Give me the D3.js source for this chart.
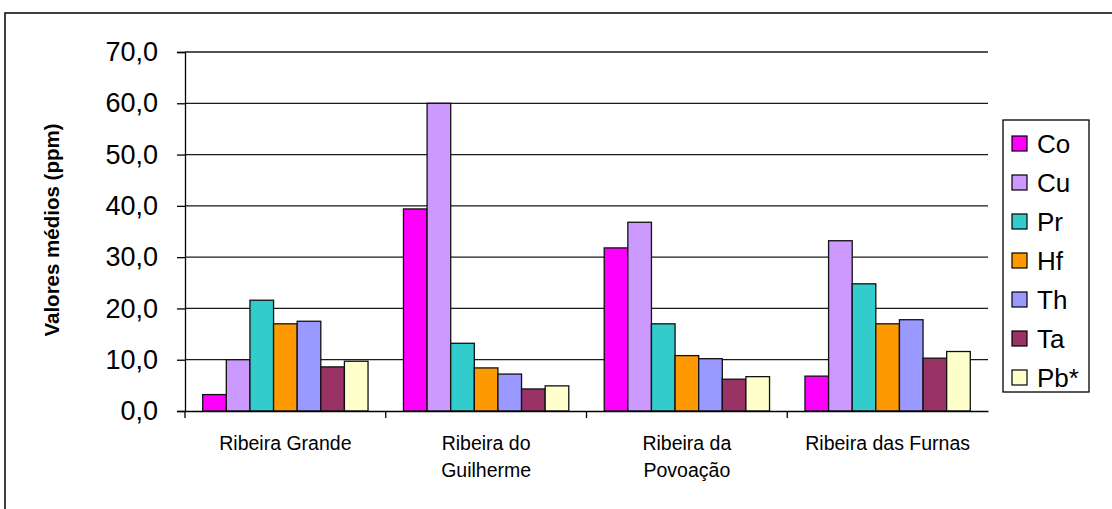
<!DOCTYPE html>
<html><head><meta charset="utf-8">
<script src="https://cdn.jsdelivr.net/npm/d3@7"></script>
<style>body{margin:0;background:#fff}svg{display:block}text{font-family:"Liberation Sans",Arial,sans-serif}</style>
</head><body>
<svg id="c" width="1112" height="509"></svg>
<script>
const categories = [["Ribeira Grande"],["Ribeira do","Guilherme"],["Ribeira da","Povoação"],["Ribeira das Furnas"]];
const seriesNames = ["Co","Cu","Pr","Hf","Th","Ta","Pb*"];
const seriesColors = ["#FF00FF","#CC99FF","#33CCCC","#FF9900","#9999FF","#993366","#FFFFCC"];
const Co = [3.2, 39.4, 31.8, 6.8];
const Cu = [10.0, 60.0, 36.8, 33.2];
const Pr = [21.6, 13.2, 17.0, 24.8];
const Hf = [17.0, 8.4, 10.8, 17.0];
const Th = [17.5, 7.2, 10.2, 17.8];
const Ta = [8.6, 4.3, 6.2, 10.3];
const Pb = [9.7, 4.9, 6.7, 11.6];
const seriesValues = [Co, Cu, Pr, Hf, Th, Ta, Pb];
const yTicks = [0,10,20,30,40,50,60,70];
const yTitle = "Valores médios (ppm)";

const svg = d3.select("#c");
svg.append("rect").attr("x",5).attr("y",13).attr("width",1130).attr("height",520)
  .attr("fill","#fff").attr("stroke","#000").attr("stroke-width",1.5);

const pL=185, pR=988, pT=52, pB=411;
const y = d3.scaleLinear().domain([0,70]).range([pB,pT]);
const catKeys = categories.map(c=>c.join(" "));
const x0 = d3.scaleBand().domain(catKeys).range([pL,pR]).paddingInner(0).paddingOuter(0);
const x1 = d3.scaleBand().domain(seriesNames).range([0,x0.bandwidth()]).paddingInner(0).paddingOuter(0.75);

// gridlines
svg.append("g").selectAll("line").data(yTicks.filter(t=>t>0)).join("line")
  .attr("x1",pL).attr("x2",pR).attr("y1",d=>y(d)).attr("y2",d=>y(d))
  .attr("stroke","#1a1a1a").attr("stroke-width",1.3);

// bars
const g = svg.append("g");
seriesNames.forEach((s,si)=>{
  g.append("g").selectAll("rect").data(seriesValues[si]).join("rect")
    .attr("x",(d,i)=>x0(catKeys[i])+x1(s))
    .attr("y",d=>y(d)).attr("width",x1.bandwidth()).attr("height",d=>y(0)-y(d))
    .attr("fill",seriesColors[si]).attr("stroke","#111").attr("stroke-width",1.3);
});

// y axis
const yAxis = d3.axisLeft(y).tickValues(yTicks).tickSize(8).tickPadding(19)
  .tickFormat(d=>d3.format(".1f")(d).replace(".",","));
const ya = svg.append("g").attr("transform",`translate(${pL},0)`).call(yAxis);
ya.select(".domain").attr("stroke","#000").attr("stroke-width",1.3);
ya.selectAll(".tick line").attr("stroke","#000").attr("stroke-width",1.3);
ya.selectAll(".tick text").attr("font-size",27).attr("fill","#000")
  .style("font-family","'Liberation Sans',Arial,sans-serif");

// x axis
const xAxis = d3.axisBottom(x0).tickSize(0).tickFormat("");
const xa = svg.append("g").attr("transform",`translate(0,${pB})`).call(xAxis);
xa.select(".domain").attr("stroke","#000").attr("stroke-width",1.3);
const bounds = [pL].concat(catKeys.slice(1).map(k=>x0(k)));
xa.selectAll(".bt").data(bounds).join("line").attr("class","bt")
  .attr("x1",d=>d).attr("x2",d=>d).attr("y1",0).attr("y2",7)
  .attr("stroke","#000").attr("stroke-width",1.3);
categories.forEach((c,i)=>{
  const cx = x0(catKeys[i]) + x0.bandwidth()/2;
  const t = svg.append("text").attr("text-anchor","middle").attr("font-size",19.5).attr("fill","#000");
  c.forEach((line,li)=>{
    t.append("tspan").attr("x",cx).attr("y",450+li*27).text(line);
  });
});

// y title
svg.append("text").attr("transform","translate(59,230) rotate(-90)")
  .attr("text-anchor","middle").attr("font-size",20.5).attr("font-weight","bold").text(yTitle);

// legend
const lg = svg.append("g");
lg.append("rect").attr("x",1003).attr("y",120).attr("width",86).attr("height",272)
  .attr("fill","#fff").attr("stroke","#000").attr("stroke-width",1.3);
seriesNames.forEach((s,i)=>{
  const cy = 143.5 + i*39;
  lg.append("rect").attr("x",1012).attr("y",cy-7.5).attr("width",15).attr("height",15)
    .attr("fill",seriesColors[i]).attr("stroke","#000").attr("stroke-width",1.2);
  lg.append("text").attr("x",1037).attr("y",cy+9.5).attr("font-size",26).attr("fill","#000").text(s);
});
</script>
</body></html>
